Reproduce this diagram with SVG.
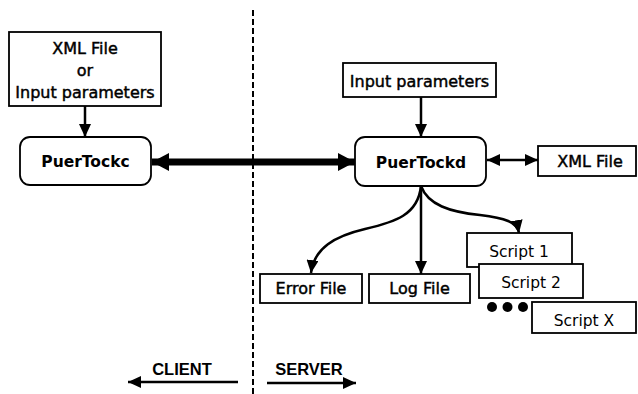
<svg xmlns="http://www.w3.org/2000/svg" width="638" height="394" viewBox="0 0 638 394">
<defs>
<style>
.box{fill:#fff;stroke:#000;stroke-width:1.8}
.t{font-family:"DejaVu Sans",sans-serif;font-size:16px;text-anchor:middle;fill:#000;stroke:#000;stroke-width:0.45}
.tm{font-family:"DejaVu Sans",sans-serif;font-size:15.5px;font-weight:bold;text-anchor:middle;fill:#000}
.ts{font-family:"DejaVu Sans",sans-serif;font-size:15.5px;text-anchor:middle;fill:#000}
.tl{font-family:"Liberation Sans",Arial,sans-serif;font-size:16.5px;font-weight:bold;text-anchor:middle;fill:#000}
.c{fill:none;stroke:#000;stroke-width:2.5}
</style>
<marker id="ah" markerUnits="userSpaceOnUse" markerWidth="14" markerHeight="12" refX="13" refY="6" orient="auto-start-reverse">
<path d="M0,0 L13,6 L0,12 Z" fill="#000"/>
</marker>
<marker id="big" markerUnits="userSpaceOnUse" markerWidth="18" markerHeight="18" refX="17" refY="9" orient="auto-start-reverse">
<path d="M0,0 L17,9 L0,18 Z" fill="#000"/>
</marker>
</defs>
<rect width="638" height="394" fill="#fff"/>
<line x1="253" y1="10" x2="253" y2="394" stroke="#000" stroke-width="2" stroke-dasharray="6,3"/>
<g id="connectors">
<line class="c" x1="85" y1="106" x2="85" y2="137" marker-end="url(#ah)"/>
<line class="c" x1="421" y1="97" x2="421" y2="137" marker-end="url(#ah)"/>
<line x1="152" y1="162" x2="355" y2="162" stroke="#000" stroke-width="7" marker-start="url(#big)" marker-end="url(#big)"/>
<line class="c" x1="487" y1="160" x2="538" y2="160" marker-start="url(#ah)" marker-end="url(#ah)"/>
<line class="c" x1="421" y1="186" x2="421" y2="274" marker-end="url(#ah)"/>
<path class="c" d="M421,186 C418,215 395,222 365,229 C335,236 314,248 311,273" marker-end="url(#ah)"/>
<path class="c" d="M421,186 C428,205 450,212 480,215 C505,218 517,222 519,233" marker-end="url(#ah)"/>
<line x1="128" y1="382" x2="238" y2="382" stroke="#000" stroke-width="2.5" marker-start="url(#ah)"/>
<line x1="267" y1="383" x2="356" y2="383" stroke="#000" stroke-width="2.5" marker-end="url(#ah)"/>
</g>
<g id="xml-input-left">
<rect class="box" x="9" y="32" width="152" height="74"/>
<text class="t" x="85" y="54">XML File</text>
<text class="t" x="85" y="76">or</text>
<text class="t" x="85" y="98">Input parameters</text>
</g>
<g id="puertockc">
<rect class="box" x="20" y="137" width="131" height="48" rx="10"/>
<text class="tm" x="85.5" y="167">PuerTockc</text>
</g>
<g id="input-right">
<rect class="box" x="343" y="63" width="153" height="34"/>
<text class="t" x="419.5" y="87">Input parameters</text>
</g>
<g id="puertockd">
<rect class="box" x="355" y="137" width="131" height="49" rx="10"/>
<text class="tm" x="421" y="168">PuerTockd</text>
</g>
<g id="xml-right">
<rect class="box" x="538" y="146" width="98" height="30"/>
<text class="t" x="590" y="167">XML File</text>
</g>
<g id="error-file">
<rect class="box" x="260" y="274" width="102" height="29"/>
<text class="t" x="311" y="294">Error File</text>
</g>
<g id="log-file">
<rect class="box" x="369" y="274" width="101" height="29"/>
<text class="t" x="419.5" y="294">Log File</text>
</g>
<g id="script1">
<rect class="box" x="467" y="233" width="105" height="34"/>
<text class="ts" x="519" y="257">Script 1</text>
</g>
<g id="script2">
<rect class="box" x="479" y="264" width="104" height="34"/>
<text class="ts" x="531" y="288">Script 2</text>
</g>
<g id="dots">
<circle cx="492" cy="307" r="5"/>
<circle cx="507.5" cy="307" r="5"/>
<circle cx="523" cy="307" r="5"/>
</g>
<g id="scriptx">
<rect class="box" x="532" y="302" width="104" height="31"/>
<text class="ts" x="584" y="326">Script X</text>
</g>
<g id="labels">
<text class="tl" x="182" y="375">CLIENT</text>
<text class="tl" x="309" y="375">SERVER</text>
</g>
</svg>
